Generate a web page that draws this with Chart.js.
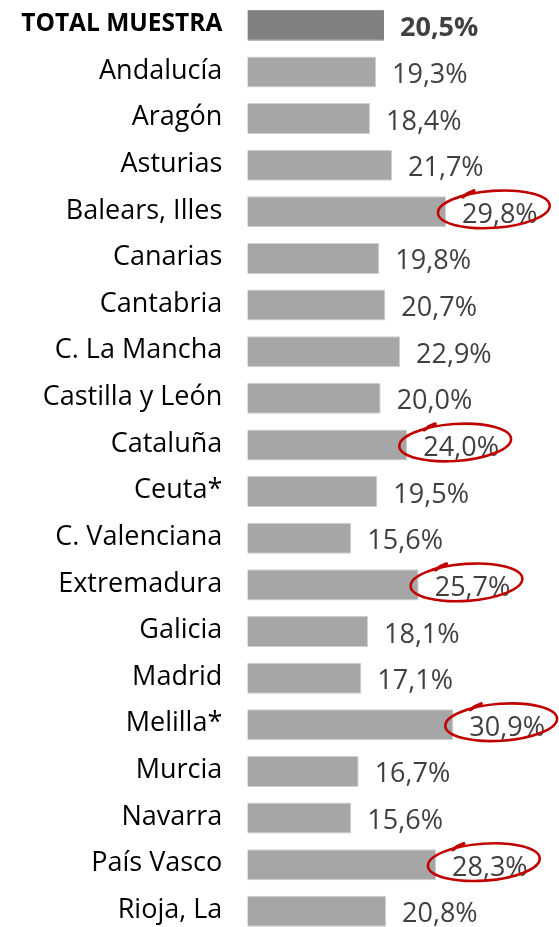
<!DOCTYPE html>
<html>
<head>
<meta charset="utf-8">
<script src="https://cdn.jsdelivr.net/npm/chart.js@4"></script>
<style>
  html, body { margin: 0; padding: 0; background: #ffffff; overflow: hidden; }
  #wrap { position: relative; width: 559px; height: 937px; }
</style>
</head>
<body>
<div id="wrap"><canvas id="c" width="559" height="937"></canvas></div>
<script>
const categories = ['TOTAL MUESTRA', 'Andalucía', 'Aragón', 'Asturias', 'Balears, Illes', 'Canarias',
  'Cantabria', 'C. La Mancha', 'Castilla y León', 'Cataluña', 'Ceuta*', 'C. Valenciana',
  'Extremadura', 'Galicia', 'Madrid', 'Melilla*', 'Murcia', 'Navarra', 'País Vasco', 'Rioja, La'];
const values = [20.5, 19.3, 18.4, 21.7, 29.8, 19.8, 20.7, 22.9, 20.0, 24.0, 19.5, 15.6,
  25.7, 18.1, 17.1, 30.9, 16.7, 15.6, 28.3, 20.8];
const highlighted = ['Balears, Illes', 'Cataluña', 'Extremadura', 'Melilla*', 'País Vasco'];

const FONT = "'Open Sans', sans-serif";
const fmt = v => v.toFixed(1).replace('.', ',') + '%';

const valueLabels = {
  id: 'valueLabels',
  afterDatasetsDraw(chart) {
    const ctx = chart.ctx;
    const meta = chart.getDatasetMeta(0);
    ctx.save();
    meta.data.forEach((bar, i) => {
      const txt = fmt(values[i]);
      const bold = i === 0;
      ctx.font = (bold ? 'bold ' : '') + '27px ' + FONT;
      ctx.fillStyle = '#404040';
      ctx.textAlign = 'left';
      ctx.textBaseline = 'alphabetic';
      const x = bar.x + 16;
      const y = bar.y + 11;
      ctx.fillText(txt, x, y);
      if (highlighted.includes(categories[i])) {
        const w = ctx.measureText(txt).width;
        const cx = x + w / 2 - 6;
        const cy = bar.y - 2.5;
        ctx.save();
        ctx.strokeStyle = '#C00000';
        ctx.lineCap = 'round';
        ctx.lineWidth = 2.6;
        ctx.beginPath();
        ctx.ellipse(cx, cy, 56, 18.5, -0.07, 0, Math.PI * 2);
        ctx.stroke();
        // short overlapping pen stroke at the start of the loop
        ctx.beginPath();
        ctx.moveTo(cx - 31, cy - 12.5);
        ctx.quadraticCurveTo(cx - 26, cy - 16.5, cx - 20, cy - 18.5);
        ctx.lineWidth = 3.4;
        ctx.stroke();
        ctx.restore();
      }
    });
    ctx.restore();
  }
};

new Chart(document.getElementById('c'), {
  type: 'bar',
  data: {
    labels: categories,
    datasets: [{
      data: values,
      backgroundColor: values.map((v, i) => i === 0 ? '#808080' : '#A6A6A6'),
      borderColor: values.map((v, i) => i === 0 ? '#808080' : '#D0D0D0'),
      borderWidth: 1,
      barPercentage: 0.665,
      categoryPercentage: 1.0
    }]
  },
  options: {
    indexAxis: 'y',
    responsive: false,
    animation: false,
    events: [],
    layout: { padding: { top: 2, bottom: 2.4, left: 0, right: 11.6 } },
    plugins: { legend: { display: false }, tooltip: { enabled: false } },
    scales: {
      x: { display: false, min: 0, max: 45 },
      y: {
        grid: { display: false, drawTicks: false },
        border: { display: false },
        ticks: {
          padding: 25,
          labelOffset: -1,
          color: '#000000',
          font: (c) => c.index === 0
            ? { family: FONT, size: 24.5, weight: 'bold' }
            : { family: FONT, size: 27, weight: 'normal' }
        },
        afterFit(scale) {
          scale.width = 247.3;
          scale.paddingTop = 0;
          scale.paddingBottom = 0;
        }
      }
    }
  },
  plugins: [valueLabels]
});
</script>
</body>
</html>
